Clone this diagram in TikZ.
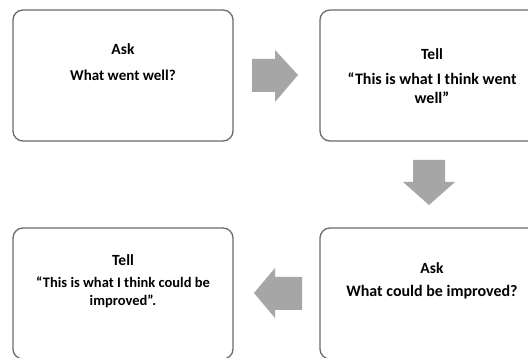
\documentclass[tikz,border=0pt]{standalone}
\usepackage{fontspec}
\setmainfont{Carlito}
\definecolor{arrowgray}{HTML}{A6A6A6}
\definecolor{boxline}{HTML}{6A6A6A}
\tikzset{
  card/.style={draw=boxline, line width=1.3pt, rounded corners=10pt, fill=white},
  blockarrow/.style={fill=arrowgray, draw=none},
  ttl/.style={anchor=base, inner sep=0pt, font=\bfseries\fontsize{15.5}{19}\selectfont},
  body/.style={anchor=base, inner sep=0pt, align=center},
}
\begin{document}
\begin{tikzpicture}[x=1pt,y=-1pt]
\useasboundingbox (0,0) rectangle (528,358);
\fill[white] (0,0) rectangle (528,358);
\clip (0,0) rectangle (528,358);
% boxes
\draw[card] (13,10) rectangle (233,141) coordinate (b1);
\draw[card] (320,10) rectangle (544,141) coordinate (b2);
\draw[card] (13,228) rectangle (233,359) coordinate (b3);
\draw[card] (320,228) rectangle (544,359) coordinate (b4);
% texts
\node[ttl] (t1) at (123,55) {Ask};
\node[body, font=\bfseries\fontsize{15}{19}\selectfont] (d1) at (123,81) {What went well?};
\node[ttl] (t2) at (432,60) {Tell};
\node[body, font=\bfseries\fontsize{16}{19}\selectfont] (d2) at (432,104) {“This is what I think went\\well”};
\node[ttl] (t3) at (123,266) {Tell};
\node[body, font=\bfseries\fontsize{14.5}{18}\selectfont] (d3) at (123,306) {“This is what I think could be\\improved”.};
\node[ttl] (t4) at (432,274) {Ask};
\node[body, font=\bfseries\fontsize{16}{19}\selectfont] (d4) at (432,297) {What could be improved?};
% block arrows
\fill[blockarrow] (252,59) -- (275,59) -- (275,50) -- (298,75) -- (275,102) -- (275,92) -- (252,92) -- cycle;
\fill[blockarrow] (413,160) -- (445,160) -- (445,182) -- (455,182) -- (429,205) -- (403,182) -- (413,182) -- cycle;
\fill[blockarrow] (302,277) -- (275,277) -- (275,268) -- (254,293) -- (275,318) -- (275,310) -- (302,310) -- cycle;
\end{tikzpicture}
\end{document}
